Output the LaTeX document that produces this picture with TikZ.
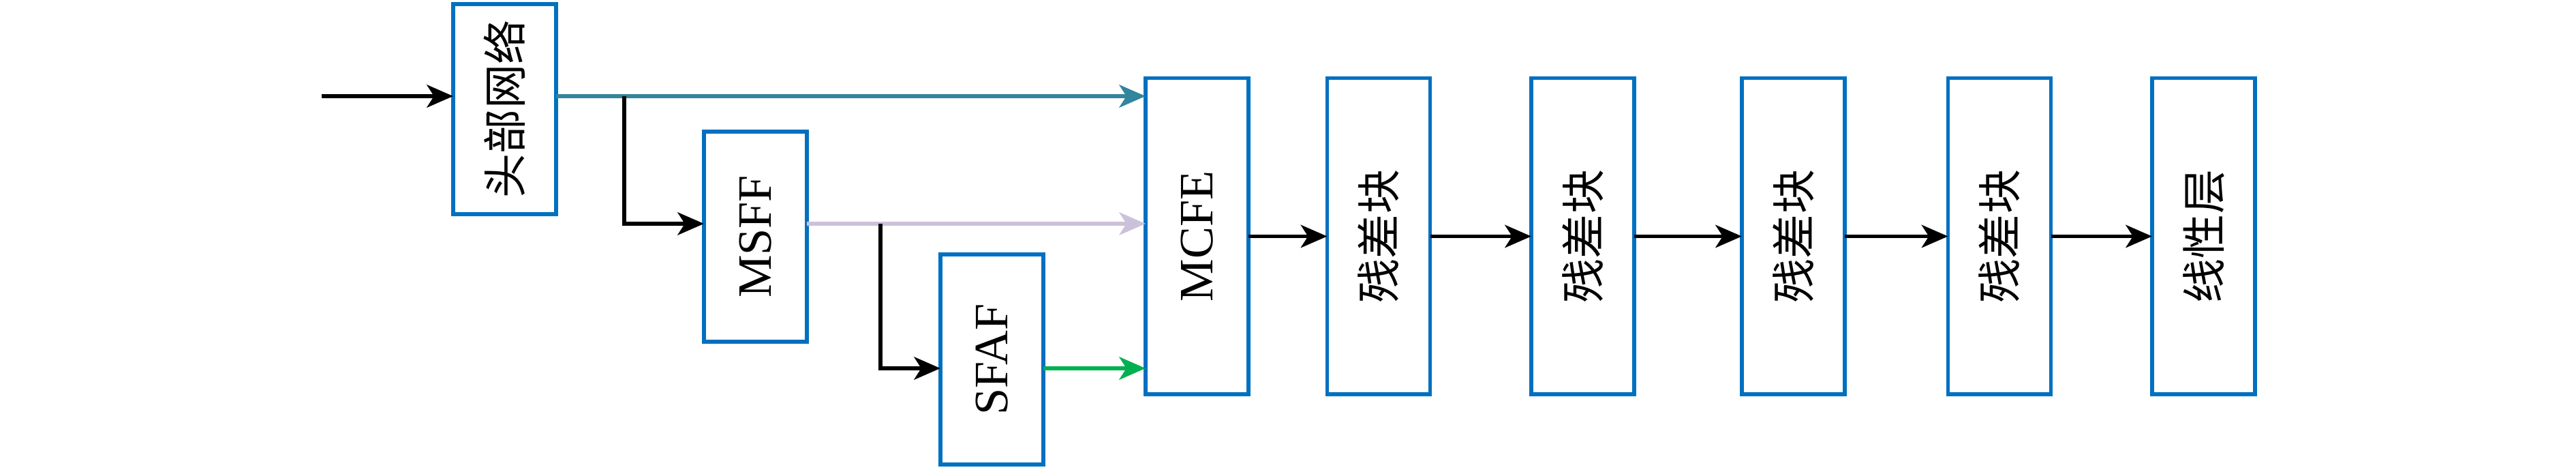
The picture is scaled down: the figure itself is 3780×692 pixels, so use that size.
\documentclass[tikz,border=0pt]{standalone}
\usepackage{fontspec}
\usepackage{graphicx}
\setmainfont{Liberation Serif}
\newfontfamily\cjk{Noto Sans CJK SC}
\usetikzlibrary{arrows.meta}
\definecolor{boxblue}{HTML}{0070C0}
\definecolor{tealline}{HTML}{31859C}
\definecolor{lavline}{HTML}{CCC1DA}
\definecolor{greenline}{HTML}{00B050}
\begin{document}
\begin{tikzpicture}[x=0.01cm,y=-0.01cm,
  blk/.style={draw=boxblue,line width=1.5pt,minimum width=1.51cm,inner sep=0pt,outer sep=0pt,fill=white},
  shortblk/.style={blk,minimum height=3.08cm},
  tallblk/.style={blk,minimum height=4.63cm},
  lat/.style={font=\fontsize{20}{24}\selectfont},
  zh/.style={font=\fontsize{18.5}{22}\selectfont\cjk},
  arr/.style={-{Stealth[length=11pt,width=9.5pt,inset=3pt]},line width=1.5pt}]
\useasboundingbox (0,0) rectangle (3780,692);
% nodes
\node[shortblk,zh] (A) at (740.5,160) {\rotatebox{90}{头部网络}};
\node[shortblk,lat] (MSFF) at (1108.5,347) {\rotatebox{90}{MSFF}};
\node[shortblk,lat] (SFAF) at (1455.5,527) {\rotatebox{90}{SFAF}};
\node[tallblk,lat] (MCFE) at (1756.5,346.5) {\rotatebox{90}{MCFE}};
\node[tallblk,zh] (R1) at (2023,346.5) {\rotatebox{90}{残差块}};
\node[tallblk,zh] (R2) at (2322.5,346.5) {\rotatebox{90}{残差块}};
\node[tallblk,zh] (R3) at (2631.5,346.5) {\rotatebox{90}{残差块}};
\node[tallblk,zh] (R4) at (2934,346.5) {\rotatebox{90}{残差块}};
\node[tallblk,zh] (L) at (3233.5,346.5) {\rotatebox{90}{线性层}};
% helper coordinates
\coordinate (in) at (472,141);
\coordinate (b1) at (916,141);
\coordinate (y2) at (0,328);
\coordinate (b2) at (1292,328);
\coordinate (y3) at (0,540);
% connectors
\draw[arr] (in) -- (in -| A.west);
\draw[arr,draw=tealline,fill=tealline] (A.east |- in) -- (in -| MCFE.west);
\draw[arr] (b1) |- (MSFF.west |- y2);
\draw[arr,draw=lavline,fill=lavline] (MSFF.east |- y2) -- (MCFE.west |- y2);
\draw[arr] (b2) |- (SFAF.west |- y3);
\draw[arr,draw=greenline,fill=greenline] (SFAF.east |- y3) -- (MCFE.west |- y3);
\draw[arr] (MCFE.east) -- (R1.west);
\draw[arr] (R1.east) -- (R2.west);
\draw[arr] (R2.east) -- (R3.west);
\draw[arr] (R3.east) -- (R4.west);
\draw[arr] (R4.east) -- (L.west);
\end{tikzpicture}
\end{document}
